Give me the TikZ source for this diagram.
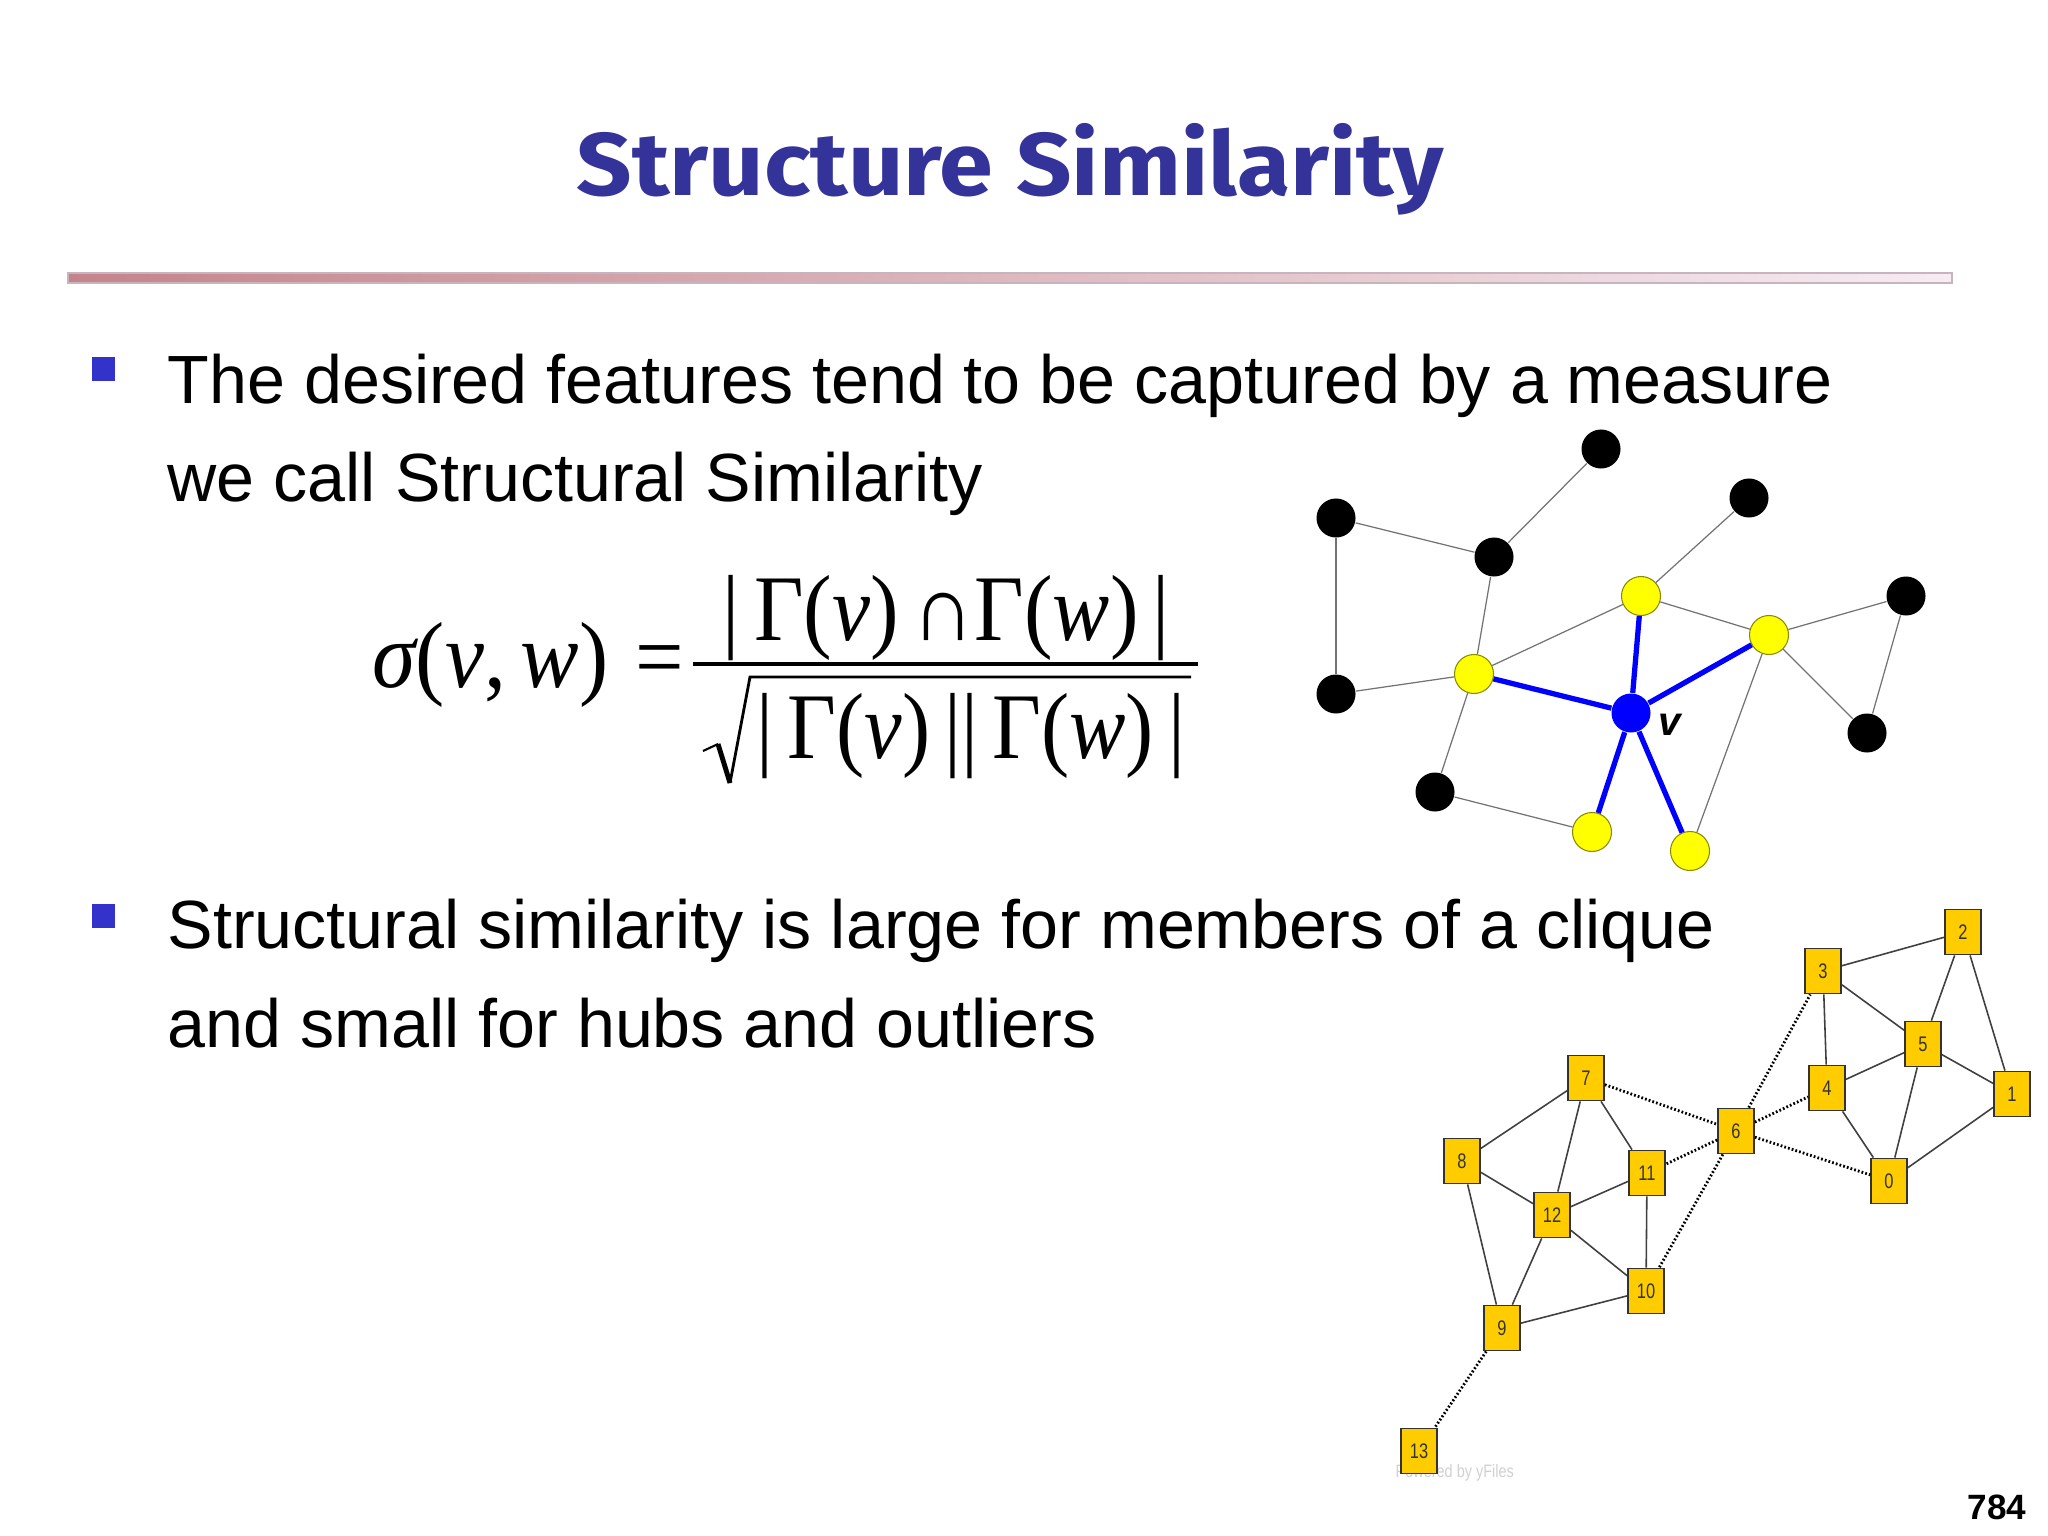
\documentclass[tikz,border=0pt]{standalone}
\usepackage{graphicx}
\usepackage{fontspec}
\setmainfont{Liberation Sans}
\newfontfamily\serifF{Liberation Serif}
\newfontfamily\titleF{Fira Sans}
\definecolor{titleblue}{HTML}{333399}
\definecolor{bulletblue}{HTML}{3333CC}
\definecolor{goldfill}{HTML}{FFCC00}
\definecolor{barL}{HTML}{C4848C}
\definecolor{barR}{HTML}{F6ECF2}
\definecolor{barEdge}{HTML}{C8B4BC}
\definecolor{hubblue}{HTML}{0000FF}
\definecolor{ylwfill}{HTML}{FFFF00}
\definecolor{ylwedge}{HTML}{8A8A00}
\newcommand\sqlab[1]{\scalebox{0.78}[1]{#1}}
\begin{document}
\begin{tikzpicture}[x=0.01cm,y=-0.01cm,
 bodytext/.style={anchor=base west, inner sep=0pt, font=\fontsize{19.4}{23}\selectfont},
 formtext/.style={anchor=base west, inner sep=0pt, font=\serifF\fontsize{26.7}{30}\selectfont},
 blk/.style={circle, fill=black, minimum size=0.39cm, inner sep=0pt},
 ylw/.style={circle, fill=ylwfill, draw=ylwedge, line width=0.3pt, minimum size=0.39cm, inner sep=0pt},
 hub/.style={circle, fill=hubblue, minimum size=0.39cm, inner sep=0pt},
 thinedge/.style={draw=black!55, line width=0.35pt},
 blueedge/.style={draw=hubblue, line width=1.5pt},
 sq/.style={rectangle, fill=goldfill, draw=black!80, line width=0.5pt, minimum width=0.36cm, minimum height=0.45cm, inner sep=0pt, text=black!80, font=\fontsize{6}{6}\selectfont},
 soledge/.style={draw=black!75, line width=0.45pt},
 dotedge/.style={draw=black, line width=0.8pt, dash pattern=on 0.5pt off 0.6pt},
 bulletsq/.style={fill=bulletblue}
]
\useasboundingbox (0,0) rectangle (2048,1536);
\fill[white] (0,0) rectangle (2048,1536);

% title
\node[anchor=base west, inner sep=0pt, text=titleblue] (title) at (576,195)
  {\resizebox{246.5pt}{20.5pt}{\titleF\bfseries Structure Similarity}};
\shade[left color=barL, right color=barR] (68,273) rectangle (1952,283);
\draw[barEdge, line width=0.3pt] (68,273) rectangle (1952,283);

% bullets
\fill[bulletsq] (92,357) rectangle (115,381);
\fill[bulletsq] (92,904) rectangle (115,928);
\node[bodytext] (t1) at (167,403) {The desired features tend to be captured by a measure};
\node[bodytext] (t2) at (167,501) {we call Structural Similarity};
\node[bodytext] (t3) at (167,948) {Structural similarity is large for members of a clique};
\node[bodytext] (t4) at (167,1047) {and small for hubs and outliers};

% formula
\node[formtext] (lhs) at (372,687)
  {\resizebox{67pt}{\height}{{\itshape σ}({\itshape v},\,{\itshape w})}};
\node[inner sep=0pt, font=\serifF\fontsize{26.7}{30}\selectfont] (eq) at (660,667)
  {\resizebox{13.8pt}{\height}{=}};
\coordinate (fracL) at (693,664);
\coordinate (fracR) at (1198,664);
\draw[line width=1.1pt] (fracL) -- (fracR);
\node[formtext] (num) at (722,640)
  {\resizebox{127.2pt}{\height}{|\,Γ({\itshape v})\,∩Γ({\itshape w})\,|}};
\node[formtext] (den) at (756,758)
  {\resizebox{121.8pt}{\height}{|\,Γ({\itshape v})\,||\,Γ({\itshape w})\,|}};
\coordinate (r1) at (703,751);
\coordinate (r2) at (718,744);
\coordinate (r3) at (730,783);
\coordinate (r4) at (750,677);
\coordinate (r5) at (1191,677);
\draw[line width=0.6pt] (r1) -- (r2);
\draw[line width=1.4pt] (r2) -- (r3);
\draw[line width=0.8pt] (r3) -- (r4) -- (r5);

% small graph
\node[blk] (b1) at (1601,449) {};
\node[blk] (b2) at (1336,518) {};
\node[blk] (b3) at (1494,557) {};
\node[blk] (b4) at (1749,498) {};
\node[ylw] (y1) at (1641,596) {};
\node[blk] (b5) at (1906,596) {};
\node[ylw] (y2) at (1769,635) {};
\node[ylw] (y3) at (1474,674) {};
\node[blk] (b6) at (1336,694) {};
\node[hub] (v) at (1631,713) {};
\node[blk] (b7) at (1867,733) {};
\node[blk] (b8) at (1435,792) {};
\node[ylw] (y4) at (1592,832) {};
\node[ylw] (y5) at (1690,851) {};
\node[inner sep=0pt, font=\fontsize{11.5}{12}\selectfont\bfseries\itshape] (vlab) at (1670,725) {v};
\draw[thinedge] (b2) -- (b3);
\draw[thinedge] (b2) -- (b6);
\draw[thinedge] (b1) -- (b3);
\draw[thinedge] (b3) -- (y3);
\draw[thinedge] (b4) -- (y1);
\draw[thinedge] (y1) -- (y3);
\draw[thinedge] (y1) -- (y2);
\draw[thinedge] (y2) -- (b5);
\draw[thinedge] (y2) -- (b7);
\draw[thinedge] (b5) -- (b7);
\draw[thinedge] (y3) -- (b6);
\draw[thinedge] (y3) -- (b8);
\draw[thinedge] (b8) -- (y4);
\draw[thinedge] (y2) -- (y5);
\draw[blueedge] (v) -- (y1);
\draw[blueedge] (v) -- (y2);
\draw[blueedge] (v) -- (y3);
\draw[blueedge] (v) -- (y4);
\draw[blueedge] (v) -- (y5);

% large graph
\node[anchor=base west, inner sep=0pt, text=black!18] (yf) at (1395,1477)
  {\resizebox{33.6pt}{3.7pt}{Powered by yFiles}};
\node[sq] (n0) at (1889,1181) {\sqlab{0}};
\node[sq] (n1) at (2012,1094) {\sqlab{1}};
\node[sq] (n2) at (1963,932) {\sqlab{2}};
\node[sq] (n3) at (1823,971) {\sqlab{3}};
\node[sq] (n4) at (1827,1088) {\sqlab{4}};
\node[sq] (n5) at (1923,1044) {\sqlab{5}};
\node[sq] (n6) at (1736,1131) {\sqlab{6}};
\node[sq] (n7) at (1586,1078) {\sqlab{7}};
\node[sq] (n8) at (1462,1161) {\sqlab{8}};
\node[sq] (n9) at (1502,1328) {\sqlab{9}};
\node[sq] (n10) at (1646,1291) {\sqlab{10}};
\node[sq] (n11) at (1647,1173) {\sqlab{11}};
\node[sq] (n12) at (1552,1215) {\sqlab{12}};
\node[sq] (n13) at (1419,1451) {\sqlab{13}};
\draw[soledge] (n3) -- (n2);
\draw[soledge] (n3) -- (n5);
\draw[soledge] (n3) -- (n4);
\draw[soledge] (n2) -- (n5);
\draw[soledge] (n2) -- (n1);
\draw[soledge] (n5) -- (n4);
\draw[soledge] (n5) -- (n1);
\draw[soledge] (n5) -- (n0);
\draw[soledge] (n4) -- (n0);
\draw[soledge] (n1) -- (n0);
\draw[soledge] (n7) -- (n8);
\draw[soledge] (n7) -- (n12);
\draw[soledge] (n7) -- (n11);
\draw[soledge] (n8) -- (n12);
\draw[soledge] (n8) -- (n9);
\draw[soledge] (n12) -- (n11);
\draw[soledge] (n12) -- (n10);
\draw[soledge] (n12) -- (n9);
\draw[soledge] (n11) -- (n10);
\draw[soledge] (n9) -- (n10);
\draw[dotedge] (n7) -- (n6);
\draw[dotedge] (n6) -- (n3);
\draw[dotedge] (n6) -- (n4);
\draw[dotedge] (n6) -- (n0);
\draw[dotedge] (n6) -- (n11);
\draw[dotedge] (n6) -- (n10);
\draw[dotedge] (n9) -- (n13);

% page number
\node[anchor=base east, inner sep=0pt, font=\fontsize{10}{12}\selectfont\bfseries] (pnum) at (2027,1519) {784};
\end{tikzpicture}
\end{document}
